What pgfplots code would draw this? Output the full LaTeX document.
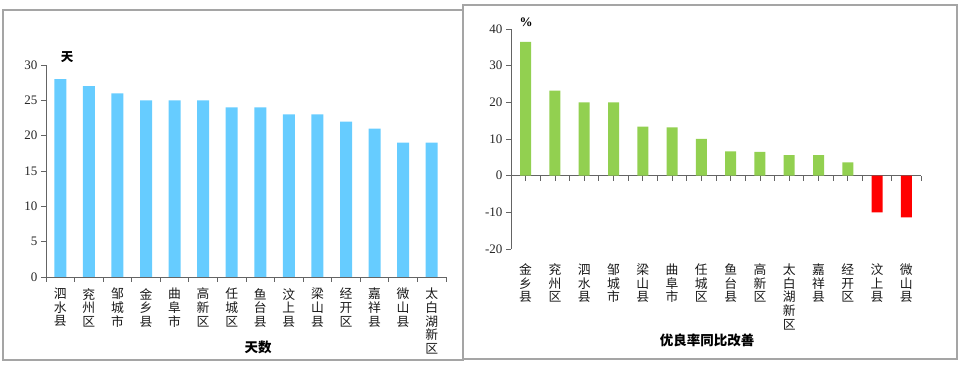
\documentclass[border=0pt]{standalone}
\usepackage{pgfplots}
\pgfplotsset{compat=1.18}
\usepackage{fontspec}
\setmainfont{Liberation Serif}
\newfontfamily\cjk{Noto Sans CJK SC}
\definecolor{barblue}{RGB}{102,204,255}
\definecolor{bargreen}{RGB}{146,208,80}
\definecolor{barred}{RGB}{255,0,0}
\definecolor{axgray}{RGB}{100,100,100}
\definecolor{framegray}{RGB}{165,165,165}
\begin{document}
\begin{tikzpicture}[x=1pt,y=1pt]
\path (0,0) rectangle (961,366);
\draw[framegray, line width=1.2pt] (3,6) rectangle (463,356);
\draw[framegray, line width=1.2pt] (463,7) rectangle (957,361);
\begin{axis}[
  at={(46pt,89pt)}, anchor=south west, scale only axis,
  width=400pt, height=212pt,
  ybar, bar width=12pt, bar shift=0pt,
  ymin=0, ymax=30, xmin=-0.5, xmax=13.5,
  axis x line=bottom, axis y line=left,
  axis line style={axgray, -, line width=0.9pt},
  tick style={axgray, line width=0.8pt},
  tick align=outside,
  ytick={0,5,...,30}, major tick length=5pt, minor tick length=5pt,
  xtick={0,...,13}, major x tick style={draw=none},
  minor xtick={-0.5,0.5,...,13.5},
  /pgf/number format/assume math mode=true,
  yticklabel style={font=\fontsize{13}{14}\selectfont, text=black!85},
  xticklabel style={font=\cjk\fontsize{12.8}{13.6}\selectfont, align=center, anchor=north, inner sep=0pt, yshift=-6pt, text=black!90},
  xticklabels={{泗\\水\\县},{兖\\州\\区},{邹\\城\\市},{金\\乡\\县},{曲\\阜\\市},{高\\新\\区},{任\\城\\区},{鱼\\台\\县},{汶\\上\\县},{梁\\山\\县},{经\\开\\区},{嘉\\祥\\县},{微\\山\\县},{太\\白\\湖\\新\\区}},
]
\addplot[fill=barblue, draw=none] coordinates {(0,28)(1,27)(2,26)(3,25)(4,25)(5,25)(6,24)(7,24)(8,23)(9,23)(10,22)(11,21)(12,19)(13,19)};
\end{axis}
\node[font=\cjk\bfseries\fontsize{12.5}{14}\selectfont] at (67,309) {天};
\node[font=\cjk\bfseries\fontsize{13.5}{14}\selectfont] at (258,19) {天数};
\begin{axis}[
  at={(511pt,117pt)}, anchor=south west, scale only axis,
  width=410pt, height=220pt,
  ybar, bar width=11pt, bar shift=0pt,
  ymin=-20, ymax=40, xmin=-0.5, xmax=13.5,
  axis x line=middle, axis y line=left,
  axis line style={axgray, -, line width=0.9pt},
  tick style={axgray, line width=0.8pt},
  tick align=outside,
  ytick={-20,-10,...,40}, major tick length=5pt, minor tick length=5pt,
  xtick={0,...,13},
  minor xtick={-0.5,0.5,...,13.5},
  /pgf/number format/assume math mode=true,
  yticklabel style={font=\fontsize{13}{14}\selectfont, text=black!85},
  xticklabel style={font=\cjk\fontsize{12.8}{13.6}\selectfont, align=center, anchor=north, inner sep=0pt, yshift=-83pt, text=black!90},
  xticklabels={{金\\乡\\县},{兖\\州\\区},{泗\\水\\县},{邹\\城\\市},{梁\\山\\县},{曲\\阜\\市},{任\\城\\区},{鱼\\台\\县},{高\\新\\区},{太\\白\\湖\\新\\区},{嘉\\祥\\县},{经\\开\\区},{汶\\上\\县},{微\\山\\县}},
]
\addplot[fill=bargreen, draw=none] coordinates {(0,36.5)(1,23.2)(2,20)(3,20)(4,13.4)(5,13.2)(6,10)(7,6.6)(8,6.5)(9,5.6)(10,5.6)(11,3.6)};
\addplot[fill=barred, draw=none] coordinates {(12,-10)(13,-11.4)};
\end{axis}
\node[font=\bfseries\fontsize{13}{14}\selectfont] at (526,344) {\%};
\node[font=\cjk\bfseries\fontsize{13.5}{14}\selectfont] at (707,26) {优良率同比改善};
\end{tikzpicture}
\end{document}
